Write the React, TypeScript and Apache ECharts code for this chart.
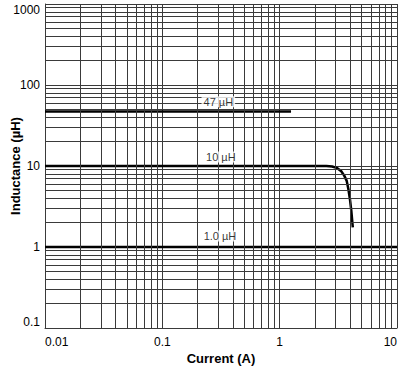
import React, { useEffect, useRef } from "react";
import * as echarts from "echarts";

const xTicks = [0.01, 0.1, 1, 10];
const yTicks = [0.1, 1, 10, 100, 1000];

const curve47: [number, number][] = [
  [0.01, 47],
  [1.25, 47],
];
const curve10: [number, number][] = [
  [0.01, 10],
  [1, 10],
  [2.5, 10],
  [2.8, 9.85],
  [3.1, 9.4],
  [3.35, 8.6],
  [3.55, 7.6],
  [3.72, 6.6],
  [3.85, 5.2],
  [3.98, 3.8],
  [4.08, 2.8],
  [4.2, 1.75],
];
const curve1: [number, number][] = [
  [0.01, 1.0],
  [10, 1.0],
];

const labelTexts = ["47 µH", "10 µH", "1.0 µH"];
const labelPoints: [number, number][] = [
  [0.3, 62],
  [0.315, 12.9],
  [0.31, 1.37],
];

const FONT = "'Liberation Sans', Arial, Helvetica, sans-serif";
const GRID_COLOR = "#3a3a3a";

function minorValues(ticks: number[]): number[] {
  const out: number[] = [];
  for (let i = 0; i < ticks.length - 1; i++) {
    for (let m = 2; m <= 9; m++) out.push(+(ticks[i] * m).toPrecision(3));
  }
  return out;
}

export default function App() {
  const ref = useRef<HTMLDivElement>(null);
  useEffect(() => {
    if (!ref.current) return;
    const chart = echarts.init(ref.current, null, { renderer: "svg" });
    const xMinor = minorValues(xTicks);
    const yMinor = minorValues(yTicks);
    const fmt = (v: number) => String(+Number(v).toPrecision(3));
    chart.setOption({
      animation: false,
      backgroundColor: "#fff",
      grid: {
        left: 45,
        right: 3,
        top: 4,
        bottom: 39,
        containLabel: false,
        outerBoundsMode: "none",
      },
      xAxis: {
        type: "log",
        logBase: 10,
        min: xTicks[0],
        max: xTicks[xTicks.length - 1],
        name: "Current (A)",
        nameLocation: "middle",
        nameGap: 24,
        nameMoveOverlap: false,
        nameTextStyle: { fontFamily: FONT, fontSize: 13, fontWeight: "bold", color: "#000" },
        axisLine: { show: true, lineStyle: { color: GRID_COLOR, width: 1 } },
        axisTick: { show: false },
        axisLabel: {
          fontFamily: FONT,
          fontSize: 12,
          color: "#000",
          margin: 8,
          formatter: fmt,
          alignMinLabel: "left",
          alignMaxLabel: "right",
        },
        splitLine: { show: true, lineStyle: { color: GRID_COLOR, width: 1 } },
      },
      yAxis: {
        type: "log",
        logBase: 10,
        min: yTicks[0],
        max: yTicks[yTicks.length - 1],
        name: "Inductance (µH)",
        nameLocation: "middle",
        nameGap: 23,
        nameRotate: 90,
        nameMoveOverlap: false,
        nameTextStyle: { fontFamily: FONT, fontSize: 13, fontWeight: "bold", color: "#000" },
        axisLine: { show: true, lineStyle: { color: GRID_COLOR, width: 1 } },
        axisTick: { show: false },
        axisLabel: {
          fontFamily: FONT,
          fontSize: 12,
          color: "#000",
          margin: 5,
          formatter: fmt,
          verticalAlignMinLabel: "bottom",
          verticalAlignMaxLabel: "top",
        },
        splitLine: { show: true, lineStyle: { color: GRID_COLOR, width: 1 } },
      },
      series: [
        {
          type: "line",
          data: [],
          silent: true,
          z: 1,
          markLine: {
            silent: true,
            symbol: ["none", "none"],
            label: { show: false },
            animation: false,
            lineStyle: { color: GRID_COLOR, width: 1, type: "solid" },
            data: [
              ...xMinor.map((v) => ({ xAxis: v })),
              ...yMinor.map((v) => ({ yAxis: v })),
            ],
          },
        },
        ...[curve47, curve10, curve1].map((d) => ({
          type: "line",
          data: d,
          showSymbol: false,
          symbol: "none",
          z: 3,
          lineStyle: { color: "#000", width: 2.5 },
        })),
        {
          type: "scatter",
          z: 5,
          symbolSize: 0,
          itemStyle: { color: "#000" },
          data: labelPoints.map((p, i) => ({ value: p, name: labelTexts[i] })),
          label: {
            show: true,
            position: "inside",
            formatter: (p: any) => p.name,
            fontFamily: FONT,
            fontSize: 11,
            color: "#000",
            textBorderWidth: 0,
            textBorderColor: "transparent",
            backgroundColor: "#fff",
            padding: [0, 2],
          },
        },
      ],
    });
    return () => chart.dispose();
  }, []);
  return (
    <div
      ref={ref}
      style={{ position: "fixed", left: 0, top: 0, width: 400, height: 367 }}
    />
  );
}
